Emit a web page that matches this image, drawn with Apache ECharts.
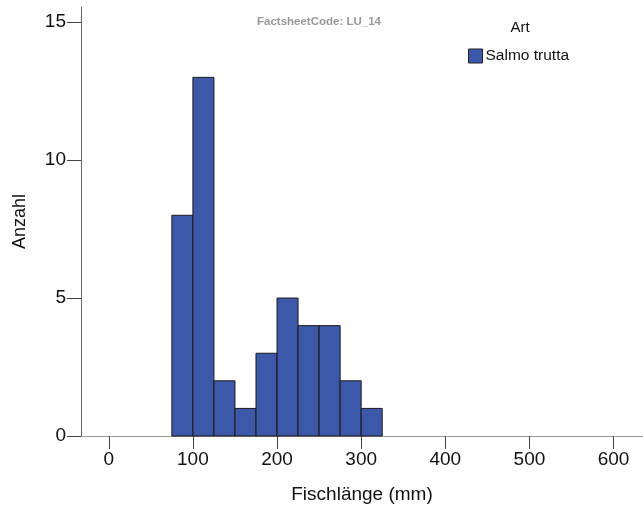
<!DOCTYPE html>
<html>
<head>
<meta charset="utf-8">
<script src="https://cdn.jsdelivr.net/npm/echarts@6/dist/echarts.min.js"></script>
<style>html,body{margin:0;padding:0;background:#fff}#c{width:643px;height:509px}</style>
</head>
<body>
<div id="c"></div>
<script>
var binStart = [75, 100, 125, 150, 175, 200, 225, 250, 275, 300];
var binEnd   = [100, 125, 150, 175, 200, 225, 250, 275, 300, 325];
var counts   = [8, 13, 2, 1, 3, 5, 4, 4, 2, 1];
var xTicks = [0, 100, 200, 300, 400, 500, 600];
var yTicks = [0, 5, 10, 15];
var seriesName = 'Salmo trutta';
var legendTitle = 'Art';
var topNote = 'FactsheetCode: LU_14';
var xName = 'Fischlänge (mm)';
var yName = 'Anzahl';

var FONT = 'Liberation Sans, Arial, sans-serif';
var data = counts.map(function (c, i) { return [binStart[i], binEnd[i], c]; });

var chart = echarts.init(document.getElementById('c'), null, {renderer: 'canvas'});
chart.setOption({
  animation: false,
  backgroundColor: '#fff',
  grid: {left: 81, right: 0, top: 7, bottom: 73, containLabel: false, outerBoundsMode: 'none'},
  xAxis: {
    type: 'value', min: -33, max: 635,
    name: xName, nameLocation: 'middle', nameGap: 49,
    nameTextStyle: {fontFamily: FONT, fontSize: 19, color: '#111'},
    splitLine: {show: false},
    axisLine: {show: true, onZero: false, lineStyle: {color: '#999', width: 1}},
    axisTick: {show: true, length: 13, inside: false, customValues: xTicks, lineStyle: {color: '#444'}},
    axisLabel: {customValues: xTicks, margin: 14, fontFamily: FONT, fontSize: 19, color: '#111'}
  },
  yAxis: {
    type: 'value', min: 0, max: 15.55, interval: 5,
    name: yName, nameLocation: 'middle', nameGap: 52, nameRotate: 90,
    nameTextStyle: {fontFamily: FONT, fontSize: 18, color: '#111'},
    splitLine: {show: false},
    axisLine: {show: true, onZero: false, lineStyle: {color: '#666', width: 1}},
    axisTick: {show: true, length: 14, customValues: yTicks, lineStyle: {color: '#444'}},
    axisLabel: {customValues: yTicks, margin: 15, fontFamily: FONT, fontSize: 19, color: '#111'}
  },
  legend: {
    data: [seriesName], left: 463, top: 43, icon: 'rect',
    itemWidth: 14, itemHeight: 14, itemGap: 0,
    itemStyle: {borderColor: '#222', borderWidth: 1},
    textStyle: {fontFamily: FONT, fontSize: 15.5, color: '#111', padding: [0, 0, 0, -2]}
  },
  graphic: [
    {type: 'text', style: {text: topNote, x: 319, y: 22, align: 'center', verticalAlign: 'middle', font: 'bold 11.5px ' + FONT, fill: '#999'}},
    {type: 'text', style: {text: legendTitle, x: 520, y: 28, align: 'center', verticalAlign: 'middle', font: '15px ' + FONT, fill: '#111'}}
  ],
  series: [{
    name: seriesName, type: 'custom',
    itemStyle: {color: '#3d58a8', borderColor: '#1a1a1a', borderWidth: 1},
    encode: {x: [0, 1], y: 2},
    data: data,
    renderItem: function (params, api) {
      var p0 = api.coord([api.value(0), api.value(2)]);
      var p1 = api.coord([api.value(1), 0]);
      return {
        type: 'rect',
        shape: {x: p0[0], y: p0[1], width: p1[0] - p0[0], height: p1[1] - p0[1]},
        style: {fill: '#3d58a8', stroke: '#1a1a1a', lineWidth: 1}
      };
    }
  }]
});
</script>
</body>
</html>
